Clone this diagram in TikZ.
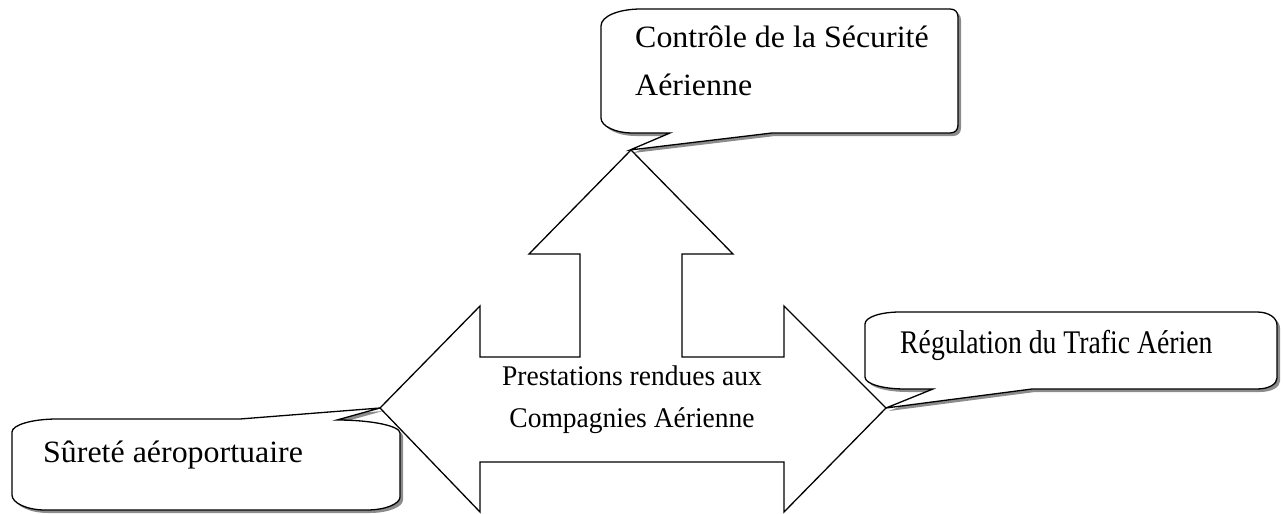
\documentclass[tikz,border=0pt]{standalone}
\usepackage{fontspec}
\setmainfont{Liberation Serif}
\usepackage{graphicx}
\begin{document}
\begin{tikzpicture}[x=1pt,y=-1pt, line join=miter,
  outl/.style={draw=black, line width=1.3pt, fill=white},
  shad/.style={fill=black!45, draw=none},
  lbl/.style={inner sep=0pt, anchor=base west, font=\fontsize{31}{37}\selectfont},
  ctr/.style={inner sep=0pt, anchor=base, font=\fontsize{28.5}{33}\selectfont},
  calA/.style={insert path={(641,9) -- (950,9) .. controls (955,9) and (958,12) .. (958,17) -- (958,125) .. controls (958,130) and (955,133) .. (950,133) -- (772,133) -- (630,150) -- (670,133) -- (633,133) .. controls (615,133) and (601,126) .. (601,118) -- (601,26) .. controls (601,16) and (619,9) .. (641,9) -- cycle}},
  calB/.style={insert path={(900,312) -- (1257,312) .. controls (1269,312) and (1277,318) .. (1277,325) -- (1277,378) .. controls (1277,384) and (1269,389) .. (1257,389) -- (1032,389) -- (886,408) -- (933,389) -- (905,389) .. controls (883,389) and (865,384) .. (865,377) -- (865,324) .. controls (865,317) and (881,312) .. (900,312) -- cycle}},
  calC/.style={insert path={(57,419) -- (240,419) -- (380,408) -- (337,420) .. controls (372,420) and (400,426) .. (400,433) -- (400,497) .. controls (400,504) and (385,510) .. (367,510) -- (45,510) .. controls (27,510) and (12,503) .. (12,495) -- (12,432) .. controls (12,425) and (32,419) .. (57,419) -- cycle}}]
\useasboundingbox (0,0) rectangle (1283,514);
% callout shadows and outlines
\fill[shad, shift={(3,3)}, calA];
\draw[outl, calA];
\fill[shad, shift={(3,3)}, calB];
\draw[outl, calB];
\fill[shad, shift={(3,3)}, calC];
\draw[outl, calC];
% three-way arrow
\draw[outl] (631,150) -- (733,254) -- (682,254) -- (682,357) -- (784,357) -- (784,306) -- (886,408) -- (784,512) -- (784,462) -- (480,462) -- (480,512) -- (380,408) -- (480,306) -- (480,357) -- (580,357) -- (580,254) -- (529,254) -- cycle;
% texts
\node[lbl] (ctrl1) at (635,47) {\scalebox{1.03}[1]{Contrôle de la Sécurité}};
\node[lbl] (ctrl2) at (635,95) {\scalebox{1.03}[1]{Aérienne}};
\node[lbl, font=\fontsize{33}{37}\selectfont] (regul) at (900,353) {\scalebox{0.84}[1]{Régulation du Trafic Aérien}};
\node[lbl] (surete) at (43,462) {\scalebox{1.03}[1]{Sûreté aéroportuaire}};
\node[ctr] (prest1) at (632,385) {\scalebox{0.965}[1]{Prestations rendues aux}};
\node[ctr] (prest2) at (632,427) {\scalebox{0.965}[1]{Compagnies Aérienne}};
\end{tikzpicture}
\end{document}
